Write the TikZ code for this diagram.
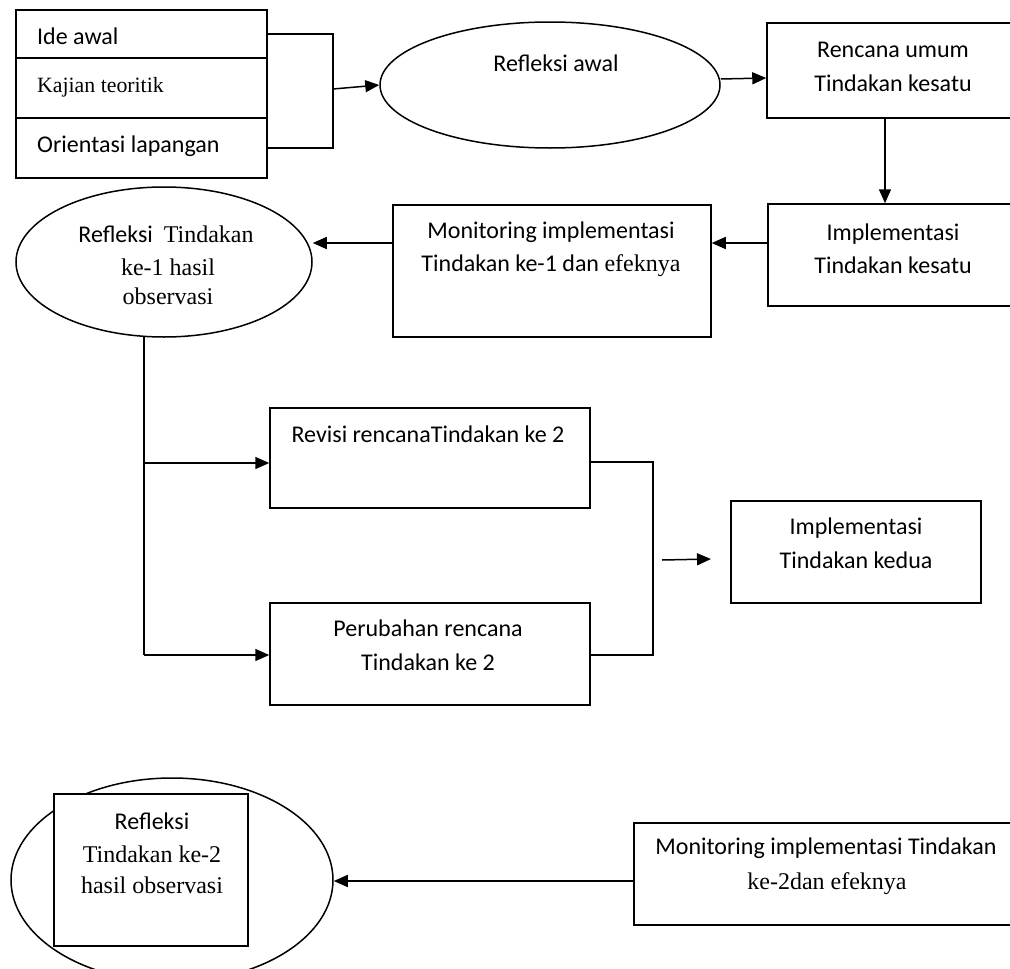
\documentclass[tikz,border=0pt]{standalone}
\usepackage{fontspec}
\setmainfont{Carlito}
\newfontfamily\tms{Liberation Serif}
\usetikzlibrary{arrows.meta,shapes.geometric}
\begin{document}
\begin{tikzpicture}[x=1pt,y=-1pt,
  box/.style={draw, line width=1.5pt, fill=white, inner sep=0pt, rectangle},
  oval/.style={draw, line width=1.5pt, ellipse, inner sep=0pt, fill=white},
  txt/.style={inner sep=0pt, anchor=base, font=\fontsize{24}{28}\selectfont},
  ttx/.style={txt, font=\fontsize{24}{28}\selectfont\tms},
  ltxt/.style={txt, anchor=base west},
  arr/.style={line width=1.5pt, -{Triangle[length=14pt,width=12pt]}},
  ln/.style={line width=1.5pt}]
\useasboundingbox (0,0) rectangle (1010,969);

% ---- top-left stacked box
\node[box, minimum width=251pt, minimum height=168pt] (stack) at (141.5,94) {};
\draw[ln] (stack.west |- 0,58) -- (stack.east |- 0,58);
\draw[ln] (stack.west |- 0,118) -- (stack.east |- 0,118);
\node[ltxt] (t1) at (37,44) {Ide awal};
\node[ltxt, font=\fontsize{21.8}{26}\selectfont\tms] (t2) at (37,92) {Kajian teoritik};
\node[ltxt] (t3) at (37,152) {Orientasi lapangan};

% ---- Refleksi awal
\node[oval, minimum width=340pt, minimum height=126pt] (e1) at (550,85) {};
\node[txt] (e1t) at (556,71) {Refleksi awal};

% ---- Rencana umum
\node[box, minimum width=251pt, minimum height=95pt] (r1) at (892.5,70.5) {};
\node[txt] (r1a) at (893,57) {Rencana umum};
\node[txt] (r1b) at (893,91) {Tindakan kesatu};

% ---- Implementasi kesatu
\node[box, minimum width=250pt, minimum height=102pt] (i1) at (893,255) {};
\node[txt] (i1a) at (893,240) {Implementasi};
\node[txt] (i1b) at (893,273) {Tindakan kesatu};

% ---- Monitoring 1
\node[box, minimum width=318pt, minimum height=132pt] (m1) at (552,271) {};
\node[txt] (m1a) at (551,238) {Monitoring implementasi};
\node[txt] (m1b) at (551,271) {Tindakan ke-1 dan {\tms efeknya}};

% ---- Refleksi Tindakan ke-1
\node[oval, minimum width=296pt, minimum height=150pt] (e2) at (164,262) {};
\node[txt] (e2a) at (166,242) {Refleksi\ \ {\tms Tindakan}};
\node[ttx] (e2b) at (168,275) {ke-1 hasil};
\node[ttx] (e2c) at (168,304) {observasi};

% ---- Revisi / Perubahan
\node[box, minimum width=320pt, minimum height=100pt] (rv) at (430,458) {};
\node[txt] (rva) at (428,442) {Revisi rencanaTindakan ke 2};
\node[box, minimum width=320pt, minimum height=102pt] (pb) at (430,654) {};
\node[txt] (pba) at (428,636) {Perubahan rencana};
\node[txt] (pbb) at (428,670) {Tindakan ke 2};

% ---- Implementasi kedua
\node[box, minimum width=250pt, minimum height=102pt] (k2) at (856,552) {};
\node[txt] (k2a) at (856,534) {Implementasi};
\node[txt] (k2b) at (856,568) {Tindakan kedua};

% ---- bottom: Refleksi ke-2
\node[oval, minimum width=322pt, minimum height=204pt] (e3) at (172,880) {};
\node[box, minimum width=194pt, minimum height=152pt] (b3) at (151,870) {};
\node[txt] (b3a) at (152,829) {Refleksi};
\node[ttx] (b3b) at (152,862) {Tindakan ke-2};
\node[ttx] (b3c) at (152,893) {hasil observasi};

% ---- Monitoring 2
\node[box, minimum width=382pt, minimum height=102pt] (m2) at (825,874) {};
\node[txt] (m2a) at (826,854) {Monitoring implementasi Tindakan};
\node[ttx] (m2b) at (827,889) {ke-2dan efeknya};

% ---- connectors
\coordinate (jb) at (333,89);
\draw[ln] (stack.east |- 0,34) -- (333,34) -- (333,148) -- (stack.east |- 0,148);
\draw[arr] (jb) -- (e1.west);
\draw[arr] ([yshift=6pt]e1.east) -- ([yshift=-7.5pt]r1.west);
\draw[arr] ([xshift=-7.5pt]r1.south) -- ([xshift=-8pt]i1.north);
\draw[arr] ([yshift=12pt]i1.west) -- ([yshift=28pt]m1.east);
\draw[arr] ([yshift=28pt]m1.west) -- (e2.east |- 0,243);

\coordinate (j1) at (144,463);
\coordinate (j2) at (144,655);
\draw[ln] ([xshift=-20pt,yshift=1pt]e2.south) -- (j2);
\draw[arr] (j1) -- (rv.west |- j1);
\draw[arr] (j2) -- (pb.west |- j2);
\draw[ln] (rv.east |- 0,462) -- (653,462) -- (653,655) -- (pb.east |- 0,655);

\coordinate (a3s) at (662,560);
\coordinate (a3e) at (711,559);
\draw[arr] (a3s) -- (a3e);

\draw[arr] (m2.west |- 0,881) -- (e3.east |- 0,881);
\end{tikzpicture}
\end{document}
